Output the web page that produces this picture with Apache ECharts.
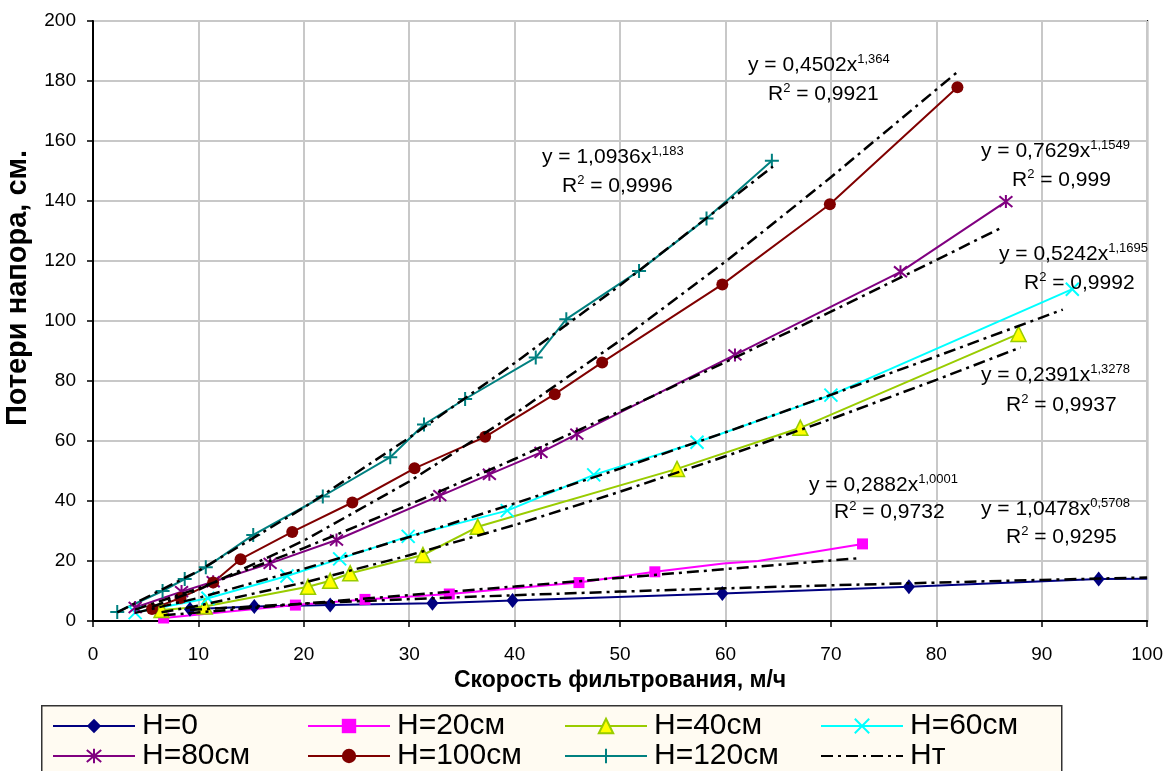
<!DOCTYPE html>
<html>
<head>
<meta charset="utf-8">
<script src="https://cdn.jsdelivr.net/npm/echarts@6/dist/echarts.min.js"></script>
<style>
html,body{margin:0;padding:0;background:#fff}
#chart{width:1166px;height:771px}
</style>
</head>
<body>
<div id="chart"></div>
<script>
// Потери напора vs скорость фильтрования, по высоте слоя H
// точки: [скорость м/ч, потери см]
const h0   =[[9.2,3.9],[15.3,4.8],[22.5,5.3],[32.2,5.9],[39.8,6.8],[59.7,9.2],[77.4,11.4],[95.4,14],[100,14.1]];
const h20  =[[6.7,1],[19.2,5.3],[25.8,7.2],[33.8,9],[46.1,12.8],[53.3,16.4],[59.8,19.2],[63.1,20],[73,25.7]];
const h40  =[[6.5,3.7],[10.6,4.8],[20.4,11.4],[22.5,13.4],[24.4,15.9],[31.3,22],[36.5,31.4],[55.4,50.7],[67.1,64.4],[87.8,95.7]];
const h60  =[[4,2.8],[10.9,7.6],[18.4,15],[23.4,20.7],[29.9,28.2],[39.3,36.8],[47.5,48.7],[57.3,59.6],[70,75.3],[92.9,110.6]];
const h80  =[[4,4.5],[8.4,9.8],[11.4,13.1],[16.8,19.2],[23.1,27],[32.9,41.8],[37.6,48.9],[42.5,56.2],[45.9,62.3],[60.9,88.7],[76.6,116.4],[86.6,139.8]];
const h100 =[[5.6,4],[8.3,7.7],[11.4,12.8],[14,20.6],[18.9,29.7],[24.6,39.5],[30.5,50.9],[37.2,61.4],[43.8,75.6],[48.3,86.2],[59.7,112.2],[69.9,138.9],[82,177.9]];
const h120 =[[2.3,3],[6.6,10],[8.7,14],[10.7,17.9],[15.2,28.7],[21.8,41.5],[28.2,54.6],[31.4,65.5],[35.3,74],[42,87.8],[44.9,100.6],[51.8,116.7],[58.2,134.2],[64.4,153.4]];
// Hт — степенные линии тренда (черные штрихпунктиры)
const t0   =[[9.2,3.7],[20,5.8],[30,7.3],[40,8.6],[50,9.8],[60,10.9],[70,11.9],[80,12.8],[90,13.7],[100,14.5]];
const t20  =[[6.7,1.9],[20,5.8],[40,11.5],[60,17.3],[72.5,20.9]];
const t40  =[[6.5,2.9],[10,5.1],[20,12.8],[30,21.9],[40,32],[50,43.1],[60,54.9],[70,67.3],[80,80.4],[88,91.2]];
const t60  =[[4,2.7],[10,7.7],[20,17.4],[30,28],[40,39.2],[50,50.8],[60,62.9],[70,75.4],[80,88.2],[92,103.8]];
const t80  =[[4,3.8],[10,10.9],[20,24.3],[30,38.8],[40,54],[50,69.9],[60,86.3],[70,103.1],[80,120.3],[86,130.8]];
const t100 =[[5.6,4.7],[10,10.4],[20,26.8],[30,46.5],[40,69],[50,93.5],[60,119.8],[70,147.9],[82,183]];
const t120 =[[2.3,2.9],[10,16.7],[20,37.8],[30,61.1],[40,86],[50,111.9],[64.5,151.5]];

const names  =['H=0','H=20см','H=40см','H=60см','H=80см','H=100см','H=120см','Hт'];
const eqs    =[['0,4502','1,364','0,9921'],['1,0936','1,183','0,9996'],['0,7629','1,1549','0,999'],
               ['0,5242','1,1695','0,9992'],['0,2391','1,3278','0,9937'],['0,2882','1,0001','0,9732'],
               ['1,0478','0,5708','0,9295']];
const xTitle='Скорость фильтрования, м/ч', yTitle='Потери напора, см.';

const FONT='"Liberation Sans", Arial, sans-serif';
const P_X='path://M0,0L10,10M10,0L0,10';
const P_AST='path://M0,0L10,10M10,0L0,10M5,-1L5,11';
const P_PLUS='path://M5,0L5,10M0,5L10,5';

function dataSeries(name,data,color,symbol,size,extra){
  const strokeSym=symbol.startsWith('path');
  return Object.assign({
    name,type:'line',data,z:3,symbol,symbolSize:size,
    lineStyle:{color,width:2},
    itemStyle:strokeSym?{color:'none',borderColor:color,borderWidth:2}:{color},
    emphasis:{disabled:true},animation:false
  },extra||{});
}
function trend(data){
  return {name:'Hт',type:'line',data,z:4,symbol:'none',animation:false,
    lineStyle:{color:'#000',width:2.5,type:[12,5,3,5]},itemStyle:{color:'#000'},emphasis:{disabled:true}};
}
// точки без маркера (промежуточные вершины)
const noSym=(arr,idx)=>arr.map((p,i)=>idx.includes(i)?{value:p,symbol:'none'}:p);

const series=[
  dataSeries(names[0],noSym(h0,[8]),'#000080','diamond',[12,15]),
  dataSeries(names[1],noSym(h20,[6,7]),'#ff00ff','rect',11),
  dataSeries(names[2],h40,'#99cc00','triangle',15,{itemStyle:{color:'#ffff00',borderColor:'#99cc00',borderWidth:1.5}}),
  dataSeries(names[3],h60,'#00ffff',P_X,13),
  dataSeries(names[4],h80,'#800080',P_AST,13),
  dataSeries(names[5],h100,'#800000','circle',12),
  dataSeries(names[6],h120,'#008080',P_PLUS,14),
  trend(t0),trend(t20),trend(t40),trend(t60),trend(t80),trend(t100),trend(t120)
];

// подписи уравнений: [x, y строки y=..., x, y строки R2]
const eqPos=[[748,65,768,94],[542,157,562,186],[981,151,1012,180],[999,254,1024,283],
             [981,375,1006,405],[809,485,834,512],[981,509,1006,537]];
const rich={m:{fontSize:21,fontFamily:FONT,color:'#000',lineHeight:24},
            s:{fontSize:13,fontFamily:FONT,color:'#000',lineHeight:24,verticalAlign:'top'}};
const graphic=[
  {type:'rect',left:41,top:705,z:0,shape:{width:1020,height:80},
   style:{fill:'#fffbf2',stroke:'#333',lineWidth:1.5}},
  {type:'text',x:18,y:288,rotation:Math.PI/2,z:10,
   style:{text:yTitle,fontSize:29,fontWeight:'bold',fontFamily:FONT,fill:'#000',align:'center',verticalAlign:'middle'}}
];
eqs.forEach((e,i)=>{
  const p=eqPos[i];
  graphic.push({type:'text',x:p[0],y:p[1],z:10,style:{text:`{m|y = ${e[0]}x}{s|${e[1]}}`,rich,verticalAlign:'middle'}});
  graphic.push({type:'text',x:p[2],y:p[3],z:10,style:{text:`{m|R}{s|2}{m| = ${e[2]}}`,rich,verticalAlign:'middle'}});
});

const legPos=[[52,711],[307,711],[564,711],[820,711],[52,741],[307,741],[564,741],[820,741]];
const legend=names.map((n,i)=>{
  const l={data:[n],left:legPos[i][0],top:legPos[i][1],padding:0,
    itemWidth:82,itemHeight:18,selectedMode:false,
    textStyle:{fontSize:30,fontFamily:FONT,color:'#000',padding:[0,0,0,2]}};
  if(n==='Hт') l.itemStyle={opacity:0};   // у тренда только штрихпунктир, без маркера
  return l;
});

const chart=echarts.init(document.getElementById('chart'),null,{renderer:'canvas'});
chart.setOption({
  backgroundColor:'#fff',animation:false,
  grid:{left:93,top:21,width:1056,height:600,show:true,borderColor:'#000',borderWidth:2,backgroundColor:'#fff'},
  xAxis:{type:'value',min:0,max:100,interval:10,
    name:xTitle,nameLocation:'middle',nameGap:45,
    nameTextStyle:{fontSize:23,fontWeight:'bold',fontFamily:FONT,color:'#000'},
    axisLine:{lineStyle:{color:'#000',width:2}},
    axisTick:{show:true,length:6,lineStyle:{color:'#000',width:1.5}},
    axisLabel:{fontSize:19,fontFamily:FONT,color:'#000',margin:24},
    splitLine:{show:true,lineStyle:{color:'#c8c8c8',width:2}}},
  yAxis:{type:'value',min:0,max:200,interval:20,
    axisLine:{show:true,lineStyle:{color:'#000',width:2}},
    axisTick:{show:true,length:6,lineStyle:{color:'#000',width:1.5}},
    axisLabel:{fontSize:19,fontFamily:FONT,color:'#000',margin:17},
    splitLine:{show:true,lineStyle:{color:'#c8c8c8',width:2}}},
  legend,
  graphic,
  series
});
</script>
</body>
</html>
